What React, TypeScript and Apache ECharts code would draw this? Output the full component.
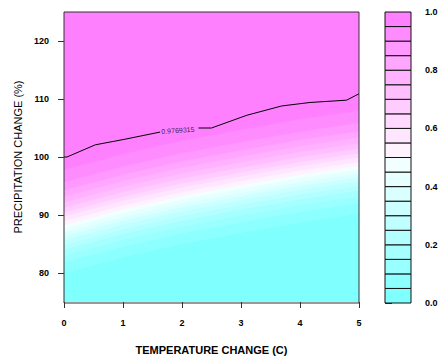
import { useEffect, useRef } from "react";
import * as echarts from "echarts";

// Axis ticks
const tempTicks = [0, 1, 2, 3, 4, 5];
const precipTicks = [80, 90, 100, 110, 120];
const keyTicks = [0, 0.2, 0.4, 0.6, 0.8, 1.0];

// Probability levels bounding the filled bands (0 .. 1 in steps of 0.05)
const levels = [
  0, 0.05, 0.1, 0.15, 0.2, 0.25, 0.3, 0.35, 0.4, 0.45, 0.5,
  0.55, 0.6, 0.65, 0.7, 0.75, 0.8, 0.85, 0.9, 0.95, 1,
];

// cm.colors(20): light cyan -> white -> light magenta
const bandColors = [
  "#80FFFF", "#8CFFFF", "#99FFFF", "#A6FFFF", "#B3FFFF",
  "#BFFFFF", "#CCFFFF", "#D9FFFF", "#E6FFFF", "#F2FFFF",
  "#FFF2FF", "#FFE6FF", "#FFD9FF", "#FFCCFF", "#FFBFFF",
  "#FFB3FF", "#FFA6FF", "#FF99FF", "#FF8CFF", "#FF80FF",
];

// Temperature change at which each level line is sampled
const levelTemps = [0, 1, 2, 3, 4, 5];

// Precipitation change (%) where the probability crosses levels 0.05 .. 0.95
const levelPrecip = [
  [80.1, 82.8, 85.1, 87.0, 88.8, 90.3], // 0.05
  [81.9, 84.6, 86.9, 88.8, 90.6, 92.1], // 0.10
  [83.1, 85.8, 88.1, 90.0, 91.8, 93.3], // 0.15
  [84.1, 86.8, 89.1, 91.0, 92.8, 94.3], // 0.20
  [84.9, 87.6, 89.9, 91.8, 93.6, 95.1], // 0.25
  [85.7, 88.4, 90.7, 92.6, 94.4, 95.9], // 0.30
  [86.4, 89.1, 91.4, 93.3, 95.1, 96.6], // 0.35
  [87.0, 89.7, 92.0, 93.9, 95.7, 97.2], // 0.40
  [87.7, 90.4, 92.7, 94.6, 96.4, 97.9], // 0.45
  [88.3, 91.0, 93.3, 95.2, 97.0, 98.5], // 0.50
  [89.0, 91.7, 94.0, 95.9, 97.7, 99.2], // 0.55
  [89.8, 92.5, 94.8, 96.7, 98.5, 100.0], // 0.60
  [90.5, 93.2, 95.5, 97.4, 99.2, 100.7], // 0.65
  [91.3, 94.0, 96.3, 98.2, 100.0, 101.5], // 0.70
  [92.2, 94.9, 97.2, 99.1, 100.9, 102.4], // 0.75
  [93.2, 95.9, 98.2, 100.1, 101.9, 103.4], // 0.80
  [94.3, 97.0, 99.3, 101.2, 103.0, 104.5], // 0.85
  [95.7, 98.4, 100.7, 102.6, 104.4, 105.9], // 0.90
  [97.8, 100.5, 102.8, 104.7, 106.5, 108.0], // 0.95
];

// Labelled contour line (broken where its label sits)
const contourLevel = 0.9769315;
const contourTempA = [0, 0.05, 0.53, 1.0, 1.63];
const contourPrecipA = [100.0, 100.0, 102.1, 103.0, 104.3];
const contourTempB = [2.28, 2.5, 3.1, 3.69, 4.17, 4.79, 5.0];
const contourPrecipB = [105.0, 105.0, 107.2, 108.8, 109.4, 109.8, 110.9];
const contourLabelAt = [1.93, 104.6];

const X_MIN = 0;
const X_MAX = 5;
const Y_MIN = 75;
const Y_MAX = 125;

const PLOT = { left: 64, top: 12, width: 295, height: 291 };
const KEY = { left: 385, top: 12, width: 26, height: 291 };

const FONT = "'Liberation Sans', Arial, Helvetica, sans-serif";

export default function App() {
  const ref = useRef<HTMLDivElement>(null);

  useEffect(() => {
    if (!ref.current) return;
    const chart = echarts.init(ref.current, undefined, { renderer: "svg" });

    const option: any = {
      animation: false,
      backgroundColor: "#ffffff",
      grid: [
        { ...PLOT, containLabel: false },
        { ...KEY, containLabel: false },
      ],
      xAxis: [
        {
          type: "value",
          gridIndex: 0,
          min: X_MIN,
          max: X_MAX,
          interval: 1,
          name: "TEMPERATURE CHANGE (C)",
          nameLocation: "middle",
          nameGap: 42,
          nameTextStyle: { fontFamily: FONT, fontSize: 11, fontWeight: "bold", color: "#000" },
          axisLine: { show: false },
          axisTick: { show: true, length: 6, customValues: tempTicks, lineStyle: { color: "#333" } },
          axisLabel: { margin: 16, customValues: tempTicks, fontFamily: FONT, fontSize: 9, fontWeight: "bold", color: "#000" },
          splitLine: { show: false },
        },
        {
          type: "value",
          gridIndex: 1,
          min: 0,
          max: 1,
          show: false,
        },
      ],
      yAxis: [
        {
          type: "value",
          gridIndex: 0,
          min: Y_MIN,
          max: Y_MAX,
          name: "PRECIPITATION CHANGE (%)",
          nameLocation: "middle",
          nameGap: 41,
          nameTextStyle: { fontFamily: FONT, fontSize: 11, color: "#000" },
          axisLine: { show: false },
          axisTick: { show: true, length: 6, customValues: precipTicks, lineStyle: { color: "#333" } },
          axisLabel: {
            margin: 15,
            customValues: precipTicks,
            fontFamily: FONT,
            fontSize: 9,
            fontWeight: "bold",
            color: "#000",
          },
          splitLine: { show: false },
        },
        {
          type: "value",
          gridIndex: 1,
          min: 0,
          max: 1,
          position: "right",
          axisLine: { show: false },
          axisTick: { show: true, length: 7, customValues: keyTicks, lineStyle: { color: "#333" } },
          axisLabel: {
            margin: 14,
            customValues: keyTicks,
            formatter: (v: number) => v.toFixed(1),
            fontFamily: FONT,
            fontSize: 9,
            fontWeight: "bold",
            color: "#000",
          },
          splitLine: { show: false },
        },
      ],
      series: [
        {
          // filled probability bands
          type: "custom",
          xAxisIndex: 0,
          yAxisIndex: 0,
          clip: true,
          silent: true,
          data: bandColors.map((_, k) => k),
          renderItem: (_params: any, api: any) => {
            const k = api.value(0);
            const lower = k === 0 ? levelTemps.map(() => Y_MIN) : levelPrecip[k - 1];
            const upper = k === bandColors.length - 1 ? levelTemps.map(() => Y_MAX) : levelPrecip[k];
            const pts: number[][] = [];
            levelTemps.forEach((t, i) => pts.push(api.coord([t, lower[i]])));
            for (let i = levelTemps.length - 1; i >= 0; i--) pts.push(api.coord([levelTemps[i], upper[i]]));
            return {
              type: "polygon",
              shape: { points: pts },
              style: { fill: bandColors[k], stroke: bandColors[k], lineWidth: 0.8 },
            };
          },
          z: 1,
        },
        {
          type: "line",
          xAxisIndex: 0,
          yAxisIndex: 0,
          symbol: "none",
          silent: true,
          lineStyle: { color: "#000", width: 1 },
          data: contourTempA.map((t, i) => [t, contourPrecipA[i]]),
          z: 3,
        },
        {
          type: "line",
          xAxisIndex: 0,
          yAxisIndex: 0,
          symbol: "none",
          silent: true,
          lineStyle: { color: "#000", width: 1 },
          data: contourTempB.map((t, i) => [t, contourPrecipB[i]]),
          z: 3,
        },
        {
          type: "scatter",
          xAxisIndex: 0,
          yAxisIndex: 0,
          symbolSize: 0,
          silent: true,
          data: [contourLabelAt],
          label: {
            show: true,
            position: "inside",
            formatter: () => String(contourLevel),
            fontFamily: FONT,
            fontSize: 7,
            color: "#000",
            rotate: 4,
          },
          z: 4,
        },
        {
          // colour key
          type: "custom",
          xAxisIndex: 1,
          yAxisIndex: 1,
          silent: true,
          data: bandColors.map((_, k) => k),
          renderItem: (_params: any, api: any) => {
            const k = api.value(0);
            const p0 = api.coord([0, levels[k]]);
            const p1 = api.coord([1, levels[k + 1]]);
            return {
              type: "rect",
              shape: { x: p0[0], y: p1[1], width: p1[0] - p0[0], height: p0[1] - p1[1] },
              style: { fill: bandColors[k], stroke: "#111", lineWidth: 1 },
            };
          },
        },
      ],
      graphic: [
        {
          type: "rect",
          z: 100,
          silent: true,
          shape: { x: PLOT.left, y: PLOT.top, width: PLOT.width, height: PLOT.height },
          style: { fill: "none", stroke: "#333", lineWidth: 1 },
        },
      ],
    };

    chart.setOption(option);
    return () => chart.dispose();
  }, []);

  return (
    <div
      ref={ref}
      style={{ position: "fixed", left: 0, top: 0, width: 444, height: 360 }}
    />
  );
}
